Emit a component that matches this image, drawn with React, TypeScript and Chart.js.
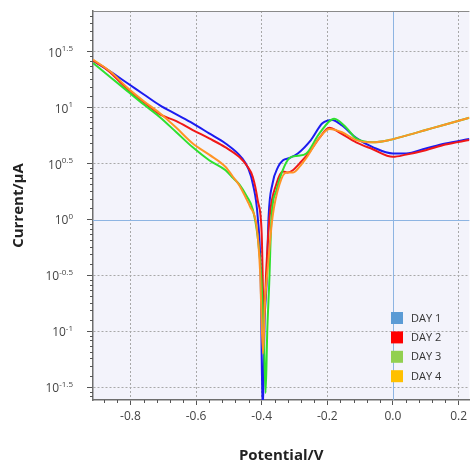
import React, { useEffect, useRef } from 'react';
import { Chart, registerables } from 'chart.js';

Chart.register(...registerables);

const seriesLabels = ['DAY 1', 'DAY 2', 'DAY 3', 'DAY 4'];
const lineColors = ['#1c1cf0', '#f01818', '#2ee02e', '#ff9426'];
const legendColors = ['#5b9bd5', '#ff0000', '#92d050', '#ffc000'];

const day1Potential = [-0.914, -0.86, -0.81, -0.76, -0.71, -0.66, -0.61, -0.56, -0.51, -0.46, -0.44, -0.427, -0.412, -0.403, -0.397, -0.391, -0.385, -0.379, -0.367, -0.35, -0.335, -0.315, -0.29, -0.25, -0.215, -0.185, -0.155, -0.11, -0.06, 0.0, 0.04, 0.1, 0.16, 0.233];
const day1LogCurrent = [1.42, 1.32, 1.22, 1.12, 1.02, 0.94, 0.86, 0.77, 0.68, 0.55, 0.45, 0.32, 0.02, -0.5, -1.75, -0.9, -0.57, 0.02, 0.32, 0.47, 0.53, 0.55, 0.59, 0.71, 0.86, 0.89, 0.84, 0.725, 0.645, 0.59, 0.59, 0.635, 0.68, 0.72];

const day2Potential = [-0.914, -0.88, -0.86, -0.81, -0.76, -0.71, -0.66, -0.61, -0.56, -0.51, -0.467, -0.445, -0.427, -0.412, -0.40, -0.393, -0.386, -0.376, -0.355, -0.335, -0.32, -0.305, -0.285, -0.255, -0.224, -0.194, -0.164, -0.112, -0.063, 0.0, 0.04, 0.1, 0.16, 0.233];
const day2LogCurrent = [1.42, 1.36, 1.31, 1.17, 1.05, 0.94, 0.88, 0.80, 0.725, 0.645, 0.556, 0.48, 0.38, 0.17, -0.12, -0.9, -0.45, 0.02, 0.32, 0.43, 0.42, 0.44, 0.50, 0.60, 0.73, 0.82, 0.78, 0.69, 0.63, 0.56, 0.58, 0.62, 0.67, 0.71];

const day3Potential = [-0.914, -0.86, -0.81, -0.76, -0.71, -0.66, -0.61, -0.56, -0.51, -0.487, -0.467, -0.446, -0.427, -0.412, -0.40, -0.393, -0.388, -0.383, -0.377, -0.37, -0.355, -0.336, -0.315, -0.29, -0.264, -0.224, -0.179, -0.142, -0.112, -0.063, -0.012, 0.04, 0.1, 0.16, 0.233];
const day3LogCurrent = [1.40, 1.27, 1.15, 1.03, 0.915, 0.78, 0.645, 0.53, 0.44, 0.37, 0.31, 0.21, 0.09, -0.16, -0.57, -1.1, -1.55, -1.0, -0.57, 0.02, 0.26, 0.44, 0.55, 0.57, 0.59, 0.77, 0.90, 0.82, 0.725, 0.69, 0.71, 0.75, 0.80, 0.85, 0.91];

const day4Potential = [-0.914, -0.86, -0.81, -0.76, -0.71, -0.66, -0.61, -0.56, -0.51, -0.487, -0.467, -0.446, -0.436, -0.415, -0.405, -0.396, -0.39, -0.382, -0.367, -0.345, -0.325, -0.305, -0.285, -0.264, -0.224, -0.194, -0.155, -0.112, -0.063, -0.012, 0.04, 0.1, 0.16, 0.233];
const day4LogCurrent = [1.43, 1.32, 1.18, 1.06, 0.95, 0.82, 0.68, 0.58, 0.47, 0.38, 0.30, 0.18, 0.12, -0.07, -0.45, -1.2, -0.75, -0.45, 0.02, 0.32, 0.42, 0.42, 0.47, 0.55, 0.73, 0.81, 0.78, 0.71, 0.69, 0.71, 0.75, 0.80, 0.85, 0.91];

const potentials = [day1Potential, day2Potential, day3Potential, day4Potential];
const logCurrents = [day1LogCurrent, day2LogCurrent, day3LogCurrent, day4LogCurrent];

const xTickValues = [-0.8, -0.6, -0.4, -0.2, 0, 0.2];
const xTickLabels = ['-0.8', '-0.6', '-0.4', '-0.2', '0.0', '0.2'];
const yTickValues = [-1.5, -1, -0.5, 0, 0.5, 1, 1.5];
const yTickExponents = ['-1.5', '-1', '-0.5', '0', '0.5', '1', '1.5'];
const xMin = -0.914;
const xMax = 0.233;
const yMin = -1.6135;
const yMax = 1.864;
const xMinorStep = 0.04;

const FONT = "'Open Sans', 'Noto Sans', sans-serif";

const decorPlugin = {
  id: 'decor',
  beforeDraw(chart: any) {
    const { ctx, chartArea: a } = chart;
    ctx.save();
    ctx.fillStyle = '#f3f3fb';
    ctx.fillRect(a.left, a.top, a.right - a.left, a.bottom - a.top);
    ctx.restore();
  },
  beforeDatasetsDraw(chart: any) {
    const { ctx, chartArea: a } = chart;
    const xs = chart.scales.x;
    const ys = chart.scales.y;
    const px = Math.round(xs.getPixelForValue(0)) + 0.5;
    const py = Math.round(ys.getPixelForValue(0)) + 0.5;
    ctx.save();
    ctx.strokeStyle = '#8db4e2';
    ctx.lineWidth = 1;
    ctx.beginPath();
    ctx.moveTo(px, a.top);
    ctx.lineTo(px, a.bottom);
    ctx.moveTo(a.left, py);
    ctx.lineTo(a.right, py);
    ctx.stroke();
    ctx.restore();
  },
  afterDraw(chart: any) {
    const { ctx, chartArea: a } = chart;
    const xs = chart.scales.x;
    const ys = chart.scales.y;
    ctx.save();
    // top border
    ctx.strokeStyle = '#8a8a8a';
    ctx.lineWidth = 1;
    ctx.beginPath();
    ctx.moveTo(a.left, a.top + 0.5);
    ctx.lineTo(a.right, a.top + 0.5);
    ctx.stroke();
    // minor ticks x
    ctx.strokeStyle = '#555';
    ctx.beginPath();
    const start = Math.ceil(xMin / xMinorStep) * xMinorStep;
    for (let v = start; v <= xMax + 1e-9; v += xMinorStep) {
      const isMajor = xTickValues.some((t) => Math.abs(t - v) < 1e-6);
      if (isMajor) continue;
      const p = Math.round(xs.getPixelForValue(v)) + 0.5;
      ctx.moveTo(p, a.bottom);
      ctx.lineTo(p, a.bottom + 3);
    }
    // minor ticks y (log-like within each half decade)
    const r = Math.pow(10, 0.5);
    for (let lo = -2; lo < 2; lo += 0.5) {
      for (let k = 1; k <= 7; k++) {
        const v = lo + Math.log10(1 + (k * (r - 1)) / 8);
        if (v < yMin || v > yMax) continue;
        const p = Math.round(ys.getPixelForValue(v)) + 0.5;
        ctx.moveTo(a.left - 3, p);
        ctx.lineTo(a.left, p);
      }
    }
    ctx.stroke();
    // y tick labels 10^x
    ctx.fillStyle = '#444';
    ctx.textBaseline = 'middle';
    ctx.textAlign = 'left';
    const right = 73;
    yTickValues.forEach((v, i) => {
      const p = ys.getPixelForValue(v);
      ctx.font = `12px ${FONT}`;
      const wb = ctx.measureText('10').width;
      ctx.font = `8px ${FONT}`;
      const we = ctx.measureText(yTickExponents[i]).width;
      const x0 = right - we - wb;
      ctx.font = `12px ${FONT}`;
      ctx.fillText('10', x0, p + 1.5);
      ctx.font = `8px ${FONT}`;
      ctx.fillText(yTickExponents[i], x0 + wb, p - 3);
    });
    // legend
    const lx = 391;
    const ly0 = 318;
    const dy = 19.4;
    seriesLabels.forEach((lab, i) => {
      const cy = ly0 + i * dy;
      ctx.fillStyle = legendColors[i];
      ctx.fillRect(lx, cy - 6, 12, 12);
      ctx.fillStyle = '#333';
      ctx.font = `11px ${FONT}`;
      ctx.textBaseline = 'middle';
      ctx.fillText(lab, lx + 20, cy + 0.5);
    });
    ctx.restore();
  },
};

export default function App() {
  const canvasRef = useRef<HTMLCanvasElement | null>(null);

  useEffect(() => {
    const canvas = canvasRef.current;
    if (!canvas) return;
    const datasets = seriesLabels.map((label, i) => ({
      label,
      data: potentials[i].map((x, j) => ({ x, y: logCurrents[i][j] })),
      borderColor: lineColors[i],
      backgroundColor: lineColors[i],
      borderWidth: 2,
      pointRadius: 0,
      fill: false,
      cubicInterpolationMode: 'monotone' as const,
      order: 4 - i,
    }));
    const chart = new Chart(canvas, {
      type: 'line',
      data: { datasets },
      plugins: [decorPlugin],
      options: {
        animation: false,
        responsive: false,
        maintainAspectRatio: false,
        layout: { padding: { left: 0, right: 0, top: 11, bottom: 0 } },
        plugins: {
          legend: { display: false },
          tooltip: { enabled: false },
        },
        scales: {
          x: {
            type: 'linear',
            min: xMin,
            max: xMax,
            afterBuildTicks: (s: any) => {
              s.ticks = xTickValues.map((value) => ({ value }));
            },
            afterFit: (s: any) => {
              s.height = 63;
            },
            ticks: {
              color: '#444',
              font: { family: FONT, size: 12 },
              padding: 4,
              maxRotation: 0,
              autoSkip: false,
              callback: (_v: any, i: number) => xTickLabels[i],
            },
            grid: {
              color: (c: any) => (c.tick && Math.abs(c.tick.value) < 1e-9 ? 'rgba(0,0,0,0)' : '#a8a8a8'),
              lineWidth: 1,
              tickLength: 5,
              tickColor: '#555',
            },
            border: { color: '#6e6e6e', width: 1.5, dash: [2, 2] },
            title: {
              display: true,
              text: 'Potential/V',
              color: '#222',
              font: { family: FONT, size: 15, weight: 'bold', lineHeight: 1 },
              padding: { top: 0, bottom: 0 },
            },
          },
          y: {
            type: 'linear',
            min: yMin,
            max: yMax,
            afterBuildTicks: (s: any) => {
              s.ticks = yTickValues.map((value) => ({ value }));
            },
            afterFit: (s: any) => {
              s.width = 93;
            },
            ticks: { display: false },
            grid: {
              color: (c: any) => (c.tick && Math.abs(c.tick.value) < 1e-9 ? 'rgba(0,0,0,0)' : '#a8a8a8'),
              lineWidth: 1,
              tickLength: 6,
              tickColor: '#555',
            },
            border: { color: '#6e6e6e', width: 1.5, dash: [2, 2] },
            title: {
              display: true,
              text: 'Current/μA',
              color: '#222',
              font: { family: FONT, size: 15, weight: 'bold', lineHeight: 1 },
              padding: { top: 11, bottom: 0 },
            },
          },
        },
      },
    });
    return () => chart.destroy();
  }, []);

  return (
    <div style={{ position: 'fixed', left: 0, top: 0, width: 471, height: 463, background: '#fff' }}>
      <canvas ref={canvasRef} width={471} height={463} style={{ display: 'block', width: 471, height: 463 }} />
    </div>
  );
}
